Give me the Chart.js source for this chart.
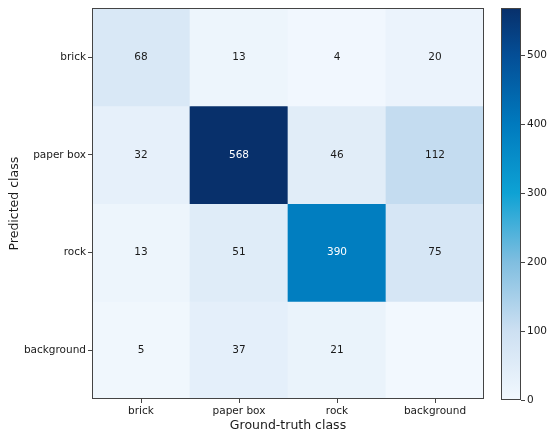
<!DOCTYPE html>
<html>
<head>
<meta charset="utf-8">
<script src="https://cdn.jsdelivr.net/npm/chart.js@4"></script>
<style>
  body { margin: 0; background: #fff; }
  #wrap { position: relative; width: 550px; height: 435px; }
  #heat { position: absolute; left: 0; top: 0; }
  #bar { position: absolute; left: 490px; top: 0; }
</style>
</head>
<body>
<div id="wrap">
  <canvas id="heat" width="490" height="435"></canvas>
  <canvas id="bar" width="60" height="435"></canvas>
</div>
<script>
/** data */
const colLabels = ["brick", "paper box", "rock", "background"];
const rowLabels = ["brick", "paper box", "rock", "background"];
const brickRow = [68, 13, 4, 20];
const paperBoxRow = [32, 568, 46, 112];
const rockRow = [13, 51, 390, 75];
const backgroundRow = [5, 37, 21, 0];
const rows = [brickRow, paperBoxRow, rockRow, backgroundRow];
const colorbarTicks = [0, 100, 200, 300, 400, 500];

const vmax = Math.max(...rows.flat());

// colour map (value -> rgb)
const cmap = [
  [0, [242, 248, 254]],
  [100, [205, 224, 242]],
  [200, [128, 190, 224]],
  [300, [14, 162, 212]],
  [400, [0, 122, 190]],
  [500, [4, 78, 150]],
  [568, [8, 48, 107]],
];

function colorFor(v) {
  for (let k = 1; k < cmap.length; k++) {
    if (v <= cmap[k][0]) {
      const [v0, c0] = cmap[k - 1];
      const [v1, c1] = cmap[k];
      const t = (v - v0) / (v1 - v0);
      const c = c0.map((a, i) => Math.round(a + (c1[i] - a) * t));
      return "rgb(" + c.join(",") + ")";
    }
  }
  return "rgb(" + cmap[cmap.length - 1][1].join(",") + ")";
}

const font = "'DejaVu Sans', sans-serif";
const ink = "#1a1a1a";
const frameColor = "#444";

const frame = {
  id: "frame",
  afterDraw(chart) {
    const a = chart.chartArea;
    const c = chart.ctx;
    c.save();
    c.strokeStyle = frameColor;
    c.lineWidth = 1;
    c.strokeRect(Math.round(a.left) + 0.5, Math.round(a.top) + 0.5,
      Math.round(a.right - a.left) - 1, Math.round(a.bottom - a.top) - 1);
    c.restore();
  },
};

const cellText = {
  id: "cellText",
  afterDatasetsDraw(chart) {
    const c = chart.ctx;
    c.save();
    c.font = "10.5px " + font;
    c.textAlign = "center";
    c.textBaseline = "middle";
    chart.data.datasets.forEach((ds, i) => {
      chart.getDatasetMeta(i).data.forEach((el, j) => {
        const v = rows[i][j];
        if (!v) return;
        c.fillStyle = v > vmax / 2 ? "#fff" : ink;
        c.fillText(String(v), el.x, (el.y + el.base) / 2);
      });
    });
    c.restore();
  },
};

/** heatmap */
const n = rowLabels.length;
new Chart(document.getElementById("heat"), {
  type: "bar",
  data: {
    labels: colLabels,
    datasets: rows.map((r, i) => ({
      label: rowLabels[i],
      data: r.map(() => [n - i - 1, n - i]),
      backgroundColor: r.map(colorFor),
      borderWidth: 0,
      grouped: false,
      categoryPercentage: 1,
      barPercentage: 1,
    })),
  },
  options: {
    responsive: false,
    animation: false,
    devicePixelRatio: 1,
    layout: { padding: { top: 8, right: 6, left: 7, bottom: 2 } },
    plugins: { legend: { display: false }, tooltip: { enabled: false } },
    scales: {
      x: {
        grid: { offset: false, drawOnChartArea: false, tickLength: 4, color: frameColor },
        border: { display: false },
        ticks: { color: ink, font: { family: font, size: 10.5 }, padding: 2 },
        title: { display: true, text: "Ground-truth class", color: ink,
          font: { family: font, size: 12.5 }, padding: { top: 0, bottom: 0 } },
        afterFit: (s) => { s.height = 34; },
      },
      y: {
        min: 0,
        max: n,
        afterBuildTicks: (s) => { s.ticks = rowLabels.map((_, i) => ({ value: i + 0.5 })); },
        grid: { drawOnChartArea: false, tickLength: 4, color: frameColor },
        border: { display: false },
        ticks: {
          color: ink, font: { family: font, size: 10.5 }, padding: 2,
          callback: (v) => rowLabels[n - 0.5 - v],
        },
        title: { display: true, text: "Predicted class", color: ink,
          font: { family: font, size: 12.5 }, padding: { top: 0, bottom: 0 } },
        afterFit: (s) => { s.width = 85; },
      },
    },
  },
  plugins: [cellText, frame],
});

/** colour bar */
new Chart(document.getElementById("bar"), {
  type: "bar",
  data: {
    labels: [""],
    datasets: [{
      data: [[0, vmax]],
      borderWidth: 0,
      categoryPercentage: 1,
      barPercentage: 1,
      backgroundColor: (ctx) => {
        const a = ctx.chart.chartArea;
        if (!a) return "#fff";
        const y0 = ctx.chart.scales.y.getPixelForValue(0);
        const y1 = ctx.chart.scales.y.getPixelForValue(vmax);
        const g = ctx.chart.ctx.createLinearGradient(0, y0, 0, y1);
        cmap.forEach(([v]) => g.addColorStop(v / vmax, colorFor(v)));
        return g;
      },
    }],
  },
  options: {
    responsive: false,
    animation: false,
    devicePixelRatio: 1,
    layout: { padding: { top: 7, left: 11, right: 0, bottom: 35 } },
    plugins: { legend: { display: false }, tooltip: { enabled: false } },
    scales: {
      x: { display: false },
      y: {
        position: "right",
        min: 0,
        max: vmax,
        afterBuildTicks: (s) => { s.ticks = colorbarTicks.map((v) => ({ value: v })); },
        grid: { drawOnChartArea: false, tickLength: 4, color: frameColor },
        border: { display: false },
        ticks: { color: ink, font: { family: font, size: 10.5 }, padding: 2 },
        afterFit: (s) => { s.width = 29; },
      },
    },
  },
  plugins: [frame],
});
</script>
</body>
</html>
